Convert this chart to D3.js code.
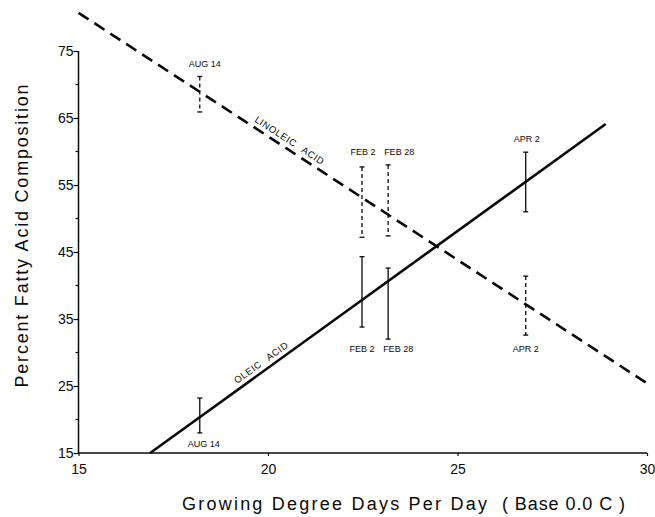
<!DOCTYPE html>
<html><head><meta charset="utf-8">
<script src="https://cdn.jsdelivr.net/npm/d3@7"></script>
<style>
body{margin:0;background:#fff;}
svg{display:block;font-family:"Liberation Sans",Arial,Helvetica,sans-serif;}
</style></head>
<body><svg id="c" width="655" height="517"></svg>
<script>
// ---- data ----
const dates = ["AUG 14", "FEB 2", "FEB 28", "APR 2"];
const gdd = [18.2, 22.48, 23.17, 26.8];
const linoleicHigh = [71.2, 57.7, 58.0, 41.4];
const linoleicLow  = [65.9, 47.2, 47.4, 32.6];
const oleicHigh = [23.2, 44.3, 42.6, 59.9];
const oleicLow  = [18.0, 33.8, 32.0, 51.0];
const linoleicFitX = [15, 30];
const linoleicFitY = [80.7, 25.4];
const oleicFitX = [16.89, 28.91];
const oleicFitY = [15, 64.1];
const xTicks = [15, 20, 25, 30];
const yTicks = [15, 25, 35, 45, 55, 65, 75];
const yMinorTicks = [20, 30, 40, 50, 60, 70];
// annotation anchor values (data units)
const topLabelValue = [72.6, 59.5, 59.5, 61.4];
const bottomLabelValue = [15.9, 30.1, 30.1, 30.1];

const svg = d3.select("#c");
const x = d3.scaleLinear().domain([15, 30]).range([78.5, 647]);
const y = d3.scaleLinear().domain([15, 75]).range([453, 51]);
const ink = "#0a0a0a";

// axes
const yAxis = d3.axisLeft(y).tickValues(yTicks).tickSize(5).tickFormat(d3.format("d"));
const gy = svg.append("g").attr("transform", `translate(${x(15)},0)`).call(yAxis);
gy.select(".domain").attr("d", `M0,${y(75)}V${y(15)}`).attr("stroke", ink).attr("stroke-width", 1.5);
gy.selectAll(".tick line").attr("stroke", ink).attr("stroke-width", 1.2);
gy.selectAll(".tick text").attr("font-size", 14).attr("fill", ink).attr("x", -5).attr("font-family", "Liberation Sans, Arial, sans-serif");
gy.selectAll(".minor").data(yMinorTicks).enter().append("line")
  .attr("x1", -3).attr("x2", 0).attr("y1", d => y(d)).attr("y2", d => y(d))
  .attr("stroke", ink).attr("stroke-width", 1.2);

const xAxis = d3.axisBottom(x).tickValues(xTicks).tickSize(3).tickFormat(d3.format("d"));
const gx = svg.append("g").attr("transform", `translate(0,${y(15)})`).call(xAxis);
gx.select(".domain").attr("d", `M${x(15)},0H${x(30)}`).attr("stroke", ink).attr("stroke-width", 1.5);
gx.selectAll(".tick line").attr("stroke", ink).attr("stroke-width", 1.2);
gx.selectAll(".tick text").attr("font-size", 14).attr("fill", ink).attr("dy", "1.05em").attr("font-family", "Liberation Sans, Arial, sans-serif");

// fit lines
const line = d3.line().x(d => x(d[0])).y(d => y(d[1]));
svg.append("path").datum(linoleicFitX.map((v, i) => [v, linoleicFitY[i]]))
  .attr("d", line).attr("fill", "none").attr("stroke", ink).attr("stroke-width", 2.6)
  .attr("stroke-dasharray", "12,7");
svg.append("path").datum(oleicFitX.map((v, i) => [v, oleicFitY[i]]))
  .attr("d", line).attr("fill", "none").attr("stroke", ink).attr("stroke-width", 2.6);

// error bars
function bars(hi, lo, dashed) {
  const g = svg.append("g").attr("stroke", ink).attr("stroke-width", 1.3);
  gdd.forEach((gx0, i) => {
    const cx = x(gx0);
    g.append("line").attr("x1", cx).attr("x2", cx).attr("y1", y(hi[i])).attr("y2", y(lo[i]))
      .attr("stroke-dasharray", dashed ? "4,3" : null);
    [hi[i], lo[i]].forEach(v => g.append("line").attr("x1", cx - 2.5).attr("x2", cx + 2.5)
      .attr("y1", y(v)).attr("y2", y(v)));
  });
}
bars(linoleicHigh, linoleicLow, true);
bars(oleicHigh, oleicLow, false);

// date labels
const shift = d => (d === "FEB 28" ? 11 : (d === "AUG 14" ? 5 : 1));
svg.selectAll(".tl").data(dates).enter().append("text")
  .attr("x", (d, i) => x(gdd[i]) + shift(d)).attr("y", (d, i) => y(topLabelValue[i]))
  .attr("text-anchor", "middle").attr("font-size", 9).attr("fill", ink).text(d => d);
svg.selectAll(".bl").data(dates).enter().append("text")
  .attr("x", (d, i) => x(gdd[i]) + shift(d) - 1).attr("y", (d, i) => y(bottomLabelValue[i]))
  .attr("text-anchor", "middle").attr("font-size", 9).attr("fill", ink).text(d => d);

// line labels, placed along the fitted lines
function angle(xs, ys) {
  return Math.atan2(y(ys[1]) - y(ys[0]), x(xs[1]) - x(xs[0])) * 180 / Math.PI;
}
function onLine(xs, ys, v) {
  return ys[0] + (ys[1] - ys[0]) * (v - xs[0]) / (xs[1] - xs[0]);
}
const la = angle(linoleicFitX, linoleicFitY);
const lx = 20.45;
svg.append("text").attr("transform", `translate(${x(lx)},${y(onLine(linoleicFitX, linoleicFitY, lx))}) rotate(${la})`)
  .attr("y", -5).attr("text-anchor", "middle").attr("font-size", 9.5).attr("fill", ink)
  .attr("letter-spacing", 0.6).attr("word-spacing", 5).text("LINOLEIC ACID");
const oa = angle(oleicFitX, oleicFitY);
const ox = 19.95;
svg.append("text").attr("transform", `translate(${x(ox)},${y(onLine(oleicFitX, oleicFitY, ox))}) rotate(${oa})`)
  .attr("y", -5).attr("text-anchor", "middle").attr("font-size", 9.5).attr("fill", ink)
  .attr("letter-spacing", 0.6).attr("word-spacing", 5).text("OLEIC ACID");

// axis titles
svg.append("text").attr("transform", `translate(28,236) rotate(-90)`)
  .attr("text-anchor", "middle").attr("font-size", 18).attr("fill", ink)
  .attr("textLength", 303).attr("lengthAdjust", "spacing")
  .text("Percent Fatty Acid Composition");
svg.append("text").attr("x", 182).attr("y", 510)
  .attr("font-size", 18).attr("fill", ink)
  .attr("textLength", 305).attr("lengthAdjust", "spacing")
  .text("Growing Degree Days Per Day");
svg.append("text").attr("x", 502).attr("y", 510)
  .attr("font-size", 18).attr("fill", ink)
  .attr("textLength", 123).attr("lengthAdjust", "spacing")
  .text("( Base 0.0 C )");
</script></body></html>
